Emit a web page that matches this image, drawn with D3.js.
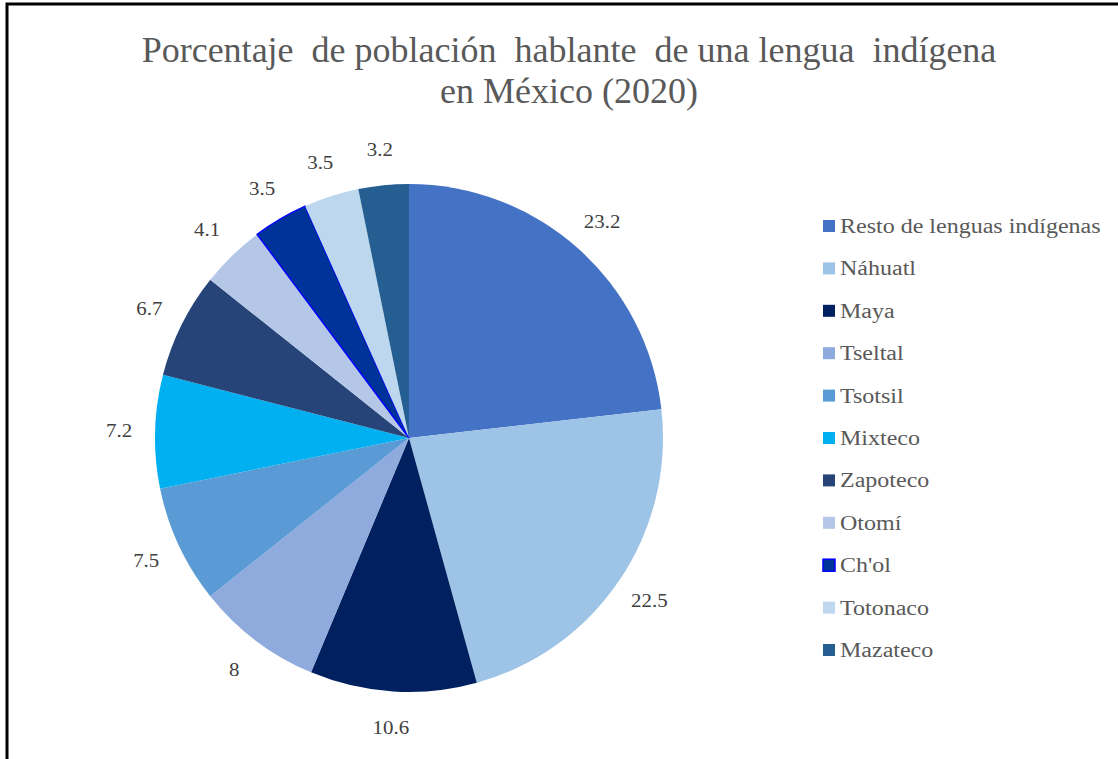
<!DOCTYPE html>
<html>
<head>
<meta charset="utf-8">
<script src="https://cdn.jsdelivr.net/npm/d3@7"></script>
<style>
  body { margin: 0; background: #fff; }
  svg { display: block; }
</style>
</head>
<body>
<div id="container"></div>
<script>
// data
const languages = ["Resto de lenguas indígenas", "Náhuatl", "Maya", "Tseltal", "Tsotsil",
  "Mixteco", "Zapoteco", "Otomí", "Ch'ol", "Totonaco", "Mazateco"];
const percents = [23.2, 22.5, 10.6, 8, 7.5, 7.2, 6.7, 4.1, 3.5, 3.5, 3.2];
const sliceColors = ["#4472C4", "#9DC3E6", "#002060", "#8FAADC", "#5B9BD5",
  "#00B0F0", "#264478", "#B4C7E7", "#003399", "#BDD7EE", "#255E91"];
const titleLines = ["Porcentaje  de población  hablante  de una lengua  indígena", "en México (2020)"];

const width = 1118, height = 759;
const cx = 409, cy = 438, radius = 254;
const serif = "'Liberation Serif', 'Times New Roman', serif";

const svg = d3.select("#container")
  .append("svg")
  .attr("width", width)
  .attr("height", height);

// frame (only top and left show in the crop)
svg.append("rect")
  .attr("x", 7).attr("y", 4)
  .attr("width", width + 20).attr("height", height + 20)
  .attr("fill", "none")
  .attr("stroke", "#000")
  .attr("stroke-width", 3);

// widen text glyphs a bit, like the original rendering
function stretch(sel, k) {
  sel.each(function() {
    const w = this.getComputedTextLength();
    d3.select(this).attr("textLength", w * k).attr("lengthAdjust", "spacingAndGlyphs");
  });
}

// title
svg.append("g")
  .selectAll("text")
  .data(titleLines)
  .join("text")
  .attr("x", 569)
  .attr("y", (d, i) => 62 + i * 41)
  .attr("text-anchor", "middle")
  .attr("font-family", serif)
  .attr("font-size", 36)
  .attr("fill", "#595959")
  .style("white-space", "pre")
  .text(d => d);

const pie = d3.pie().sort(null).value(d => d);
const arcs = pie(percents);
const arcGen = d3.arc().innerRadius(0).outerRadius(radius);
const labelArc = d3.arc().innerRadius(radius + 36).outerRadius(radius + 36);

const g = svg.append("g").attr("transform", `translate(${cx},${cy})`);

g.selectAll("path.slice")
  .data(arcs)
  .join("path")
  .attr("class", "slice")
  .attr("d", arcGen)
  .attr("fill", (d, i) => sliceColors[i])
  .attr("stroke", (d, i) => languages[i] === "Ch'ol" ? "#0000FF" : "none")
  .attr("stroke-width", 1.5);

const labels = g.selectAll("text.val")
  .data(arcs)
  .join("text")
  .attr("class", "val")
  .attr("transform", d => `translate(${labelArc.centroid(d)})`)
  .attr("text-anchor", "middle")
  .attr("dy", "0.35em")
  .attr("font-family", serif)
  .attr("font-size", 19)
  .attr("fill", "#404040")
  .text(d => d.data);
stretch(labels, 1.1);

// legend
const legendY = d3.scalePoint()
  .domain(languages)
  .range([226, 650]);

const legend = svg.append("g")
  .selectAll("g.item")
  .data(languages)
  .join("g")
  .attr("class", "item")
  .attr("transform", d => `translate(823,${legendY(d)})`);

legend.append("rect")
  .attr("x", 0).attr("y", -6)
  .attr("width", 12).attr("height", 12)
  .attr("fill", (d, i) => sliceColors[i])
  .attr("stroke", d => d === "Ch'ol" ? "#0000FF" : "none")
  .attr("stroke-width", 1.5);

const legendText = legend.append("text")
  .attr("x", 17)
  .attr("y", 7)
  .attr("font-family", serif)
  .attr("font-size", 20)
  .attr("fill", "#595959")
  .text(d => d);
stretch(legendText, 1.2);
</script>
</body>
</html>
